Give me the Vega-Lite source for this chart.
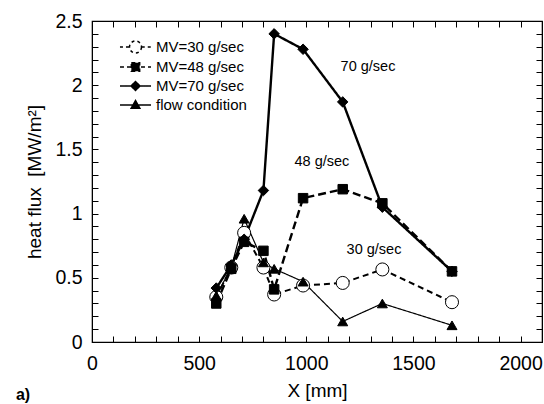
{
  "$schema": "https://vega.github.io/schema/vega-lite/v6.json",
  "width": 450,
  "height": 321,
  "autosize": "none",
  "padding": {"left": 92, "top": 21, "right": 2, "bottom": 62},
  "background": "white",
  "config": {
    "font": "Liberation Sans",
    "view": {"stroke": "black", "strokeWidth": 1.2},
    "legend": {"symbolStrokeColor": "black", "symbolStrokeWidth": 1.5},
    "axis": {"grid": false, "domainColor": "black", "tickColor": "black", "labelColor": "black", "titleColor": "black", "labelFont": "Liberation Sans", "titleFont": "Liberation Sans", "titleFontWeight": "normal", "labelFontSize": 19.5, "titleFontSize": 19, "tickSize": -6, "tickWidth": 1}
  },
  "title": {"text": "a)", "orient": "bottom", "anchor": "start", "frame": "bounds", "fontSize": 16, "fontWeight": "bold", "font": "Liberation Sans", "color": "black", "dx": -10, "offset": -14},
  "datasets": {
    "pts": [
      {"s": "MV=30 g/sec", "x": 580, "y": 0.35},
      {"s": "MV=30 g/sec", "x": 650, "y": 0.58},
      {"s": "MV=30 g/sec", "x": 710, "y": 0.85},
      {"s": "MV=30 g/sec", "x": 800, "y": 0.58},
      {"s": "MV=30 g/sec", "x": 850, "y": 0.37},
      {"s": "MV=30 g/sec", "x": 985, "y": 0.44},
      {"s": "MV=30 g/sec", "x": 1170, "y": 0.46},
      {"s": "MV=30 g/sec", "x": 1355, "y": 0.565},
      {"s": "MV=30 g/sec", "x": 1680, "y": 0.31},
      {"s": "MV=48 g/sec", "x": 580, "y": 0.30},
      {"s": "MV=48 g/sec", "x": 650, "y": 0.57},
      {"s": "MV=48 g/sec", "x": 710, "y": 0.78},
      {"s": "MV=48 g/sec", "x": 800, "y": 0.71},
      {"s": "MV=48 g/sec", "x": 850, "y": 0.41},
      {"s": "MV=48 g/sec", "x": 985, "y": 1.12},
      {"s": "MV=48 g/sec", "x": 1170, "y": 1.19},
      {"s": "MV=48 g/sec", "x": 1355, "y": 1.08},
      {"s": "MV=48 g/sec", "x": 1680, "y": 0.55},
      {"s": "MV=70 g/sec", "x": 580, "y": 0.42},
      {"s": "MV=70 g/sec", "x": 650, "y": 0.60},
      {"s": "MV=70 g/sec", "x": 710, "y": 0.80},
      {"s": "MV=70 g/sec", "x": 800, "y": 1.18},
      {"s": "MV=70 g/sec", "x": 850, "y": 2.40},
      {"s": "MV=70 g/sec", "x": 985, "y": 2.28},
      {"s": "MV=70 g/sec", "x": 1170, "y": 1.87},
      {"s": "MV=70 g/sec", "x": 1355, "y": 1.05},
      {"s": "MV=70 g/sec", "x": 1680, "y": 0.55},
      {"s": "flow condition", "x": 580, "y": 0.36},
      {"s": "flow condition", "x": 650, "y": 0.58},
      {"s": "flow condition", "x": 710, "y": 0.96},
      {"s": "flow condition", "x": 800, "y": 0.62},
      {"s": "flow condition", "x": 850, "y": 0.57},
      {"s": "flow condition", "x": 985, "y": 0.47},
      {"s": "flow condition", "x": 1170, "y": 0.16},
      {"s": "flow condition", "x": 1355, "y": 0.30},
      {"s": "flow condition", "x": 1680, "y": 0.13}
    ],
    "notes": [
      {"t": "70 g/sec", "x": 1288, "y": 2.14},
      {"t": "48 g/sec", "x": 1073, "y": 1.40},
      {"t": "30 g/sec", "x": 1316, "y": 0.72}
    ]
  },
  "layer": [
    {
      "data": {"name": "pts"},
      "mark": {"type": "line", "color": "black"},
      "encoding": {
        "x": {"field": "x", "type": "quantitative", "scale": {"domain": [0, 2100], "nice": false, "zero": false},
              "axis": {"orient": "bottom", "title": "X [mm]", "values": [0,100,200,300,400,500,600,700,800,900,1000,1100,1200,1300,1400,1500,1600,1700,1800,1900,2000,2100], "format": "d", "labelExpr": "datum.value % 500 === 0 ? datum.label : ''", "labelPadding": 18, "titlePadding": 9, "labelFlush": false, "labelOverlap": false}},
        "y": {"field": "y", "type": "quantitative", "scale": {"domain": [0, 2.5], "nice": false},
              "axis": {"orient": "left", "title": "heat flux\u00a0\u00a0[MW/m²]", "values": [0,0.1,0.2,0.3,0.4,0.5,0.6,0.7,0.8,0.9,1,1.1,1.2,1.3,1.4,1.5,1.6,1.7,1.8,1.9,2,2.1,2.2,2.3,2.4,2.5], "format": "~g", "labelExpr": "abs(datum.value*2 - round(datum.value*2)) < 0.001 ? datum.label : ''", "labelPadding": 16, "titlePadding": 10, "labelFlush": false, "labelOverlap": false}},
        "detail": {"field": "s"},
        "strokeDash": {"condition": [{"test": "datum.s === 'MV=30 g/sec'", "value": [6, 4]}, {"test": "datum.s === 'MV=48 g/sec'", "value": [8, 4]}], "value": [1, 0]},
        "strokeWidth": {"condition": [{"test": "datum.s === 'flow condition'", "value": 1.2}, {"test": "datum.s === 'MV=30 g/sec'", "value": 2}], "value": 2.4}
      }
    },
    {
      "data": {"name": "pts"},
      "mark": {"type": "point", "filled": true, "stroke": "black", "strokeWidth": 1, "opacity": 1},
      "encoding": {
        "x": {"field": "x", "type": "quantitative", "axis": {"orient": "top", "title": null, "labels": false, "values": [0,100,200,300,400,500,600,700,800,900,1000,1100,1200,1300,1400,1500,1600,1700,1800,1900,2000,2100]}},
        "y": {"field": "y", "type": "quantitative", "axis": {"orient": "right", "title": null, "labels": false, "values": [0,0.1,0.2,0.3,0.4,0.5,0.6,0.7,0.8,0.9,1,1.1,1.2,1.3,1.4,1.5,1.6,1.7,1.8,1.9,2,2.1,2.2,2.3,2.4,2.5]}},
        "shape": {"condition": [{"test": "datum.s === 'MV=30 g/sec'", "value": "circle"}, {"test": "datum.s === 'MV=48 g/sec'", "value": "square"}, {"test": "datum.s === 'MV=70 g/sec'", "value": "diamond"}], "value": "triangle-up"},
        "fill": {"condition": {"test": "datum.s === 'MV=30 g/sec'", "value": "white"}, "value": "black"},
        "size": {"condition": [{"test": "datum.s === 'MV=30 g/sec'", "value": 170}, {"test": "datum.s === 'MV=48 g/sec'", "value": 90}, {"test": "datum.s === 'MV=70 g/sec'", "value": 110}], "value": 100}
      }
    },
    {
      "data": {"name": "pts"},
      "transform": [{"filter": "false"}],
      "mark": {"type": "point", "filled": true, "stroke": "black", "strokeWidth": 1.5, "opacity": 1},
      "encoding": {
        "shape": {"field": "s", "type": "nominal",
          "scale": {"domain": ["MV=30 g/sec", "MV=48 g/sec", "MV=70 g/sec", "flow condition"],
                    "range": [
                      "M-1.94,0H-0.78M0.78,0H1.94M0.75,0A0.75,0.75,0,1,1,-0.75,0A0.75,0.75,0,1,1,0.75,0Z",
                      "M-1.94,0H1.94M-0.52,-0.52H0.52V0.52H-0.52Z",
                      "M-1.94,0H1.94M0,-0.56L0.56,0L0,0.56L-0.56,0Z",
                      "M-1.94,0H1.94M0,-0.55L0.55,0.42L-0.55,0.42Z"]},
          "legend": {"title": null, "orient": "none", "legendX": 34.5, "legendY": 17, "padding": 0, "symbolSize": 256, "labelOffset": 11.5, "rowPadding": 2, "labelFontSize": 15, "labelFont": "Liberation Sans", "labelColor": "black", "symbolOpacity": 1, "symbolStrokeColor": "black", "symbolStrokeWidth": 1.5}},
        "fill": {"field": "s", "type": "nominal", "scale": {"domain": ["MV=30 g/sec", "MV=48 g/sec", "MV=70 g/sec", "flow condition"], "range": ["white", "black", "black", "black"]}},
        "stroke": {"field": "s", "type": "nominal", "scale": {"domain": ["MV=30 g/sec", "MV=48 g/sec", "MV=70 g/sec", "flow condition"], "range": ["black", "black", "black", "black"]}},
        "strokeDash": {"field": "s", "type": "nominal", "scale": {"domain": ["MV=30 g/sec", "MV=48 g/sec", "MV=70 g/sec", "flow condition"], "range": [[3, 3], [4, 3], [1, 0], [1, 0]]}}
      }
    },
    {
      "data": {"name": "notes"},
      "mark": {"type": "text", "fontSize": 14.5, "font": "Liberation Sans", "color": "black"},
      "encoding": {
        "x": {"field": "x", "type": "quantitative", "axis": null},
        "y": {"field": "y", "type": "quantitative", "axis": null},
        "text": {"field": "t"}
      }
    }
  ],
  "resolve": {"axis": {"x": "independent", "y": "independent"}}
}
